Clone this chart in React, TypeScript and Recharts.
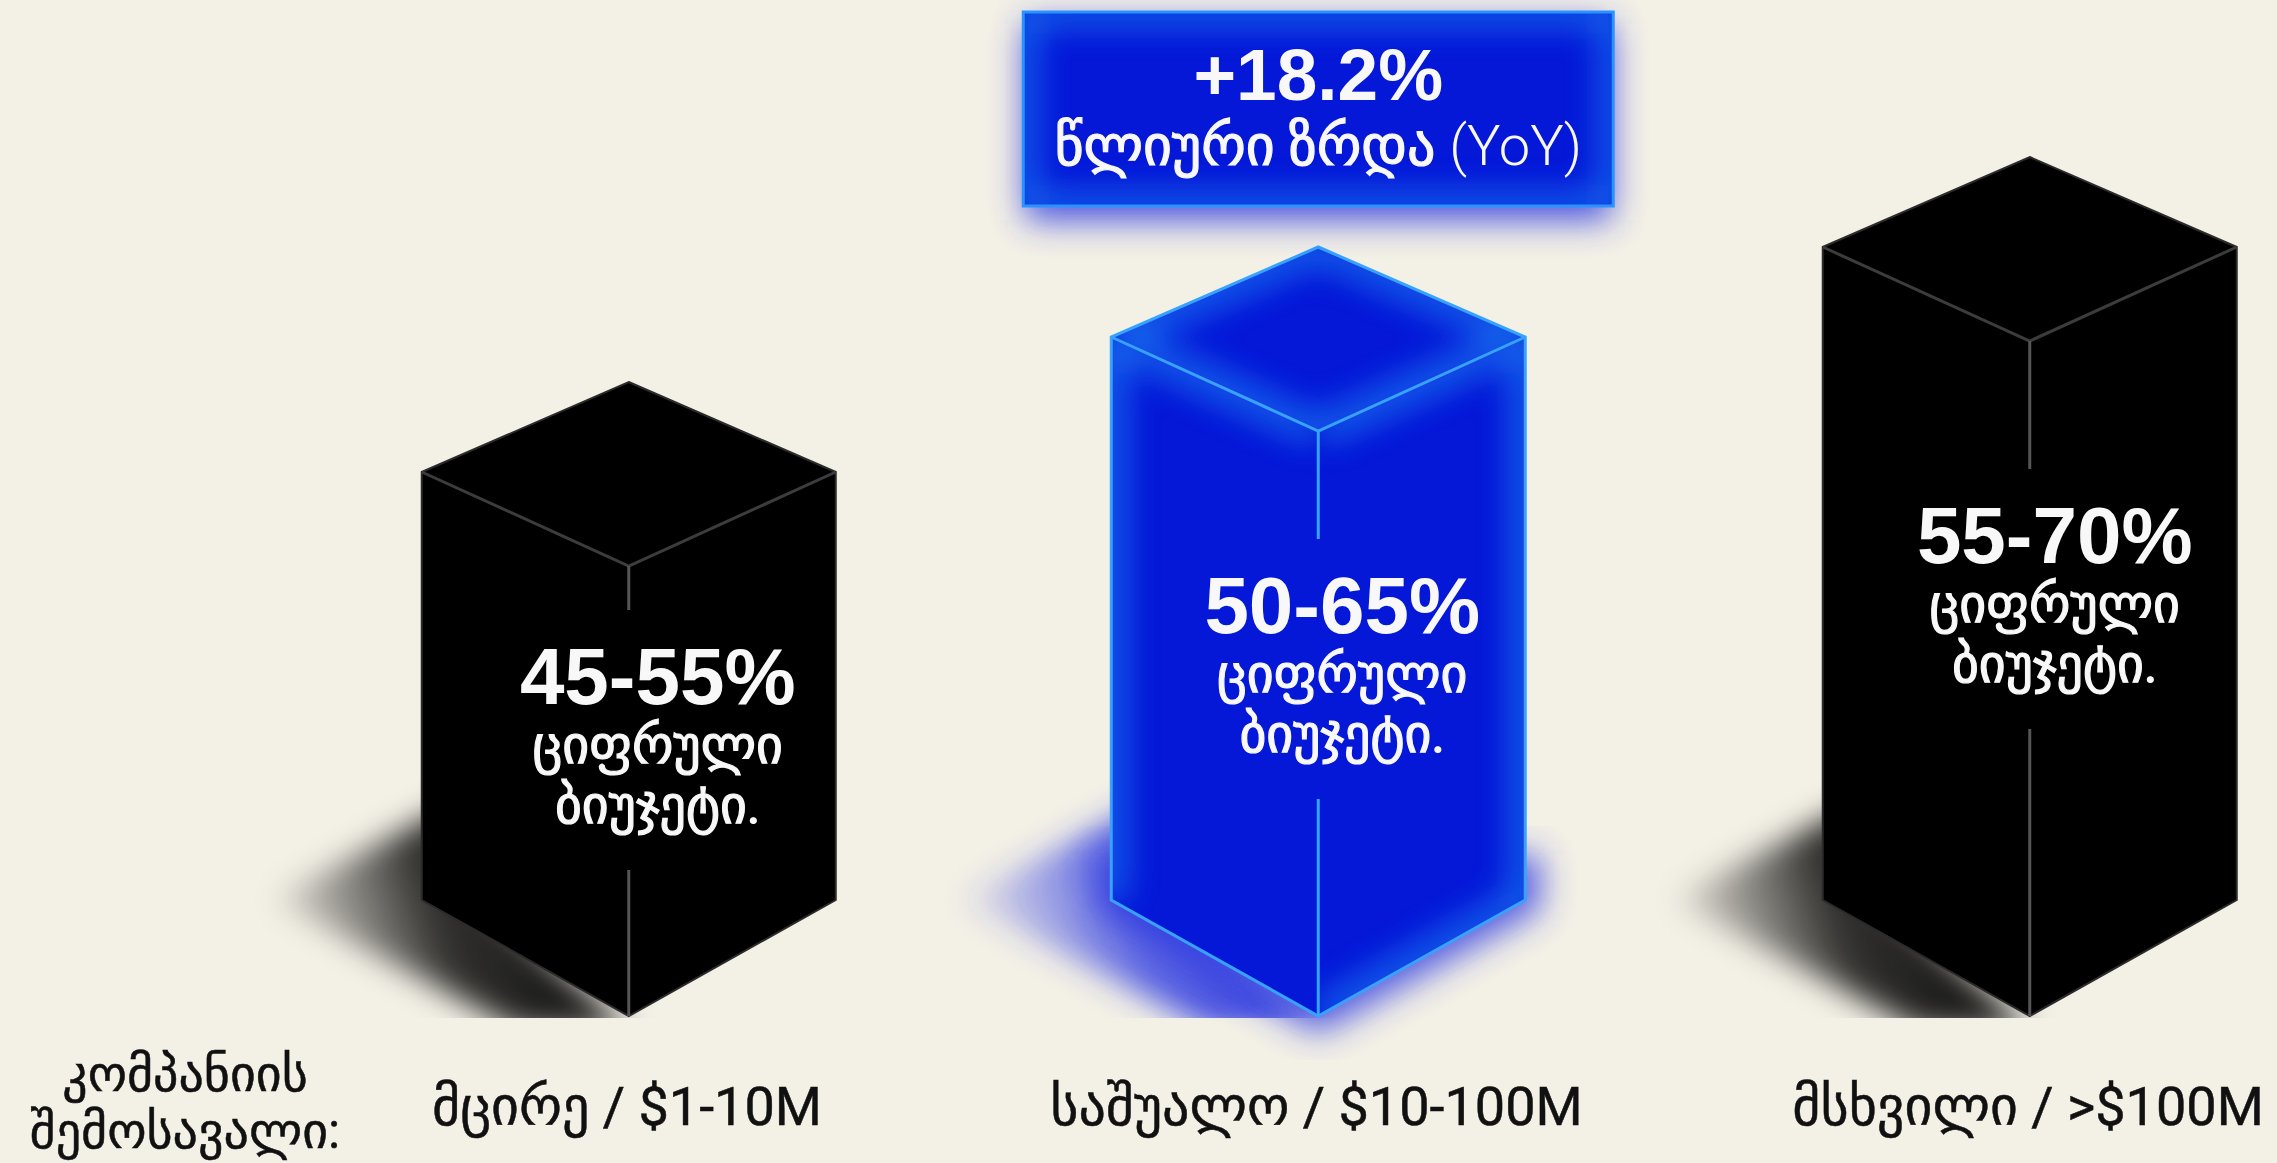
import { Bar, BarChart, XAxis, YAxis } from "recharts"

// revenue tiers and the digital budget share for each one
const revenueTiers = ["მცირე / $1-10M", "საშუალო / $10-100M", "მსხვილი / >$100M"]
const budgetRanges = ["45-55%", "50-65%", "55-70%"]
const budgetMidpoints = [50, 57.5, 62.5]
const budgetCaption = ["ციფრული", "ბიუჯეტი."]
const axisTitle = ["კომპანიის", "შემოსავალი:"]
const growthValue = "+18.2%"
const growthCaption = ["წლიური ზრდა", "(YoY)"]
const highlightTier = 1

const chartData = revenueTiers.map((tier, i) => ({
  tier,
  range: budgetRanges[i],
  midpoint: budgetMidpoints[i],
}))

const WIDTH = 2277
const HEIGHT = 1163
const NUMBER_FONT = "'Liberation Sans', Arial, sans-serif"
const TEXT_FONT = "Roboto, 'DejaVu Sans', sans-serif"

// the columns are not quite evenly spaced
const tierShift = [0, -11, 0]
// how far above the baseline the big percentage sits, and how far right of the front edge
const labelLift = [341, 412, 482]
const labelOffset = [29, 24, 25]

const TOP_NEAR = 94
const TOP_FAR = 90
const BOTTOM_RISE = 116

// soft light band along the given edges of one face
function FaceGlow({ id, points, glow }: { id: string; points: string; glow: string }) {
  return (
    <g clipPath={`url(#${id})`}>
      <clipPath id={id}>
        <polygon points={points} />
      </clipPath>
      <polyline
        points={glow}
        fill="none"
        stroke="#1b84f4"
        strokeWidth={24}
        opacity={0.85}
        filter="url(#innerGlow)"
      />
    </g>
  )
}

function IsoColumn(props: any) {
  const { x, y, width, height, index } = props
  const left = x + tierShift[index]
  const right = left + width
  const cx = left + width / 2
  const bottom = y + height
  const isBlue = index === highlightTier

  const sideTop = y - TOP_NEAR
  const apex = sideTop - TOP_FAR
  const sideBottom = bottom - BOTTOM_RISE

  const topFace = `${cx},${apex} ${right},${sideTop} ${cx},${y} ${left},${sideTop}`
  const leftFace = `${left},${sideTop} ${cx},${y} ${cx},${bottom} ${left},${sideBottom}`
  const rightFace = `${right},${sideTop} ${cx},${y} ${cx},${bottom} ${right},${sideBottom}`
  const outline = `${cx},${apex} ${right},${sideTop} ${right},${sideBottom} ${cx},${bottom} ${left},${sideBottom} ${left},${sideTop}`
  const shadow = `${left + 30},${sideBottom - 95} ${left - 150},${sideBottom} ${cx - 110},${bottom + 14} ${cx},${bottom + 14} ${left + 60},${sideBottom}`
  const lowerBody = `${left},${sideBottom - 30} ${left},${sideBottom} ${cx},${bottom} ${right},${sideBottom} ${right},${sideBottom - 30}`

  const edgeColor = isBlue ? "#38a2ff" : "#3c3c3c"
  const textY = bottom - labelLift[index]
  const textX = cx + labelOffset[index]
  const shadowFill = isBlue ? "url(#blueShadow)" : "url(#blackShadow)"

  return (
    <g>
      <g clipPath="url(#groundClip)">
        <polygon points={shadow} fill={shadowFill} filter="url(#softShadow)" />
      </g>
      {isBlue && (
        <polygon
          points={lowerBody}
          fill="#2c39e0"
          stroke="#2c39e0"
          strokeWidth={30}
          opacity={0.8}
          filter="url(#outerGlow)"
        />
      )}
      <polygon points={outline} fill={isBlue ? "#0518d8" : "#000"} />
      {isBlue && (
        <>
          <FaceGlow
            id="topFaceClip"
            points={topFace}
            glow={`${left},${sideTop} ${cx},${apex} ${right},${sideTop} ${cx},${y} ${left},${sideTop}`}
          />
          <FaceGlow
            id="leftFaceClip"
            points={leftFace}
            glow={`${left},${sideBottom} ${left},${sideTop} ${cx},${y}`}
          />
          <FaceGlow
            id="rightFaceClip"
            points={rightFace}
            glow={`${cx},${bottom} ${right},${sideBottom} ${right},${sideTop} ${cx},${y}`}
          />
        </>
      )}
      <polygon points={outline} fill="none" stroke={isBlue ? edgeColor : "#2b2b2b"} strokeWidth={isBlue ? 3 : 2} />
      <polyline points={`${left},${sideTop} ${cx},${y} ${right},${sideTop}`} fill="none" stroke={edgeColor} strokeWidth={3} />
      <line x1={cx} y1={y} x2={cx} y2={textY - 65} stroke={isBlue ? edgeColor : "#555"} strokeWidth={3} />
      <line x1={cx} y1={textY + 195} x2={cx} y2={bottom} stroke={isBlue ? edgeColor : "#555"} strokeWidth={3} />

      <g textAnchor="middle" fill="#f8f8f8">
        <text x={textX} y={textY + 29} fontFamily={NUMBER_FONT} fontSize={80} fontWeight={700}>
          {budgetRanges[index]}
        </text>
        <g fontFamily={TEXT_FONT} fontSize={52} stroke="#f8f8f8" strokeWidth={1.2}>
          <text x={textX} y={textY + 88}>{budgetCaption[0]}</text>
          <text x={textX} y={textY + 148}>{budgetCaption[1]}</text>
        </g>
      </g>

      {isBlue && (
        <g>
          <rect x={cx - 293} y={24} width={586} height={196} fill="#2c39e0" opacity={0.85} filter="url(#outerGlow)" />
          <g clipPath="url(#badgeClip)">
            <clipPath id="badgeClip">
              <rect x={cx - 295} y={12} width={590} height={194} />
            </clipPath>
            <rect x={cx - 295} y={12} width={590} height={194} fill="#0518d8" />
            <rect
              x={cx - 295}
              y={12}
              width={590}
              height={194}
              fill="none"
              stroke="#1b84f4"
              strokeWidth={22}
              opacity={0.85}
              filter="url(#innerGlow)"
            />
          </g>
          <rect x={cx - 295} y={12} width={590} height={194} fill="none" stroke="#2b93ff" strokeWidth={3} />
          <text x={cx} y={100} textAnchor="middle" fill="#f8f8f8" fontFamily={NUMBER_FONT} fontSize={73} fontWeight={700}>
            {growthValue}
          </text>
          <text x={cx} y={165} textAnchor="middle" fill="#f8f8f8" fontFamily={TEXT_FONT} fontSize={56}>
            <tspan stroke="#f8f8f8" strokeWidth={1.2}>{growthCaption[0]}</tspan>
            <tspan fontWeight={300}> {growthCaption[1]}</tspan>
          </text>
        </g>
      )}
    </g>
  )
}

function TierTick(props: any) {
  const { x, y, payload, index } = props
  return (
    <text
      x={x + tierShift[index] - 2}
      y={y + 103}
      textAnchor="middle"
      fill="#111"
      stroke="#111"
      strokeWidth={0.5}
      fontFamily={TEXT_FONT}
      fontSize={54}
    >
      {payload.value}
    </text>
  )
}

export default function App() {
  return (
    <div style={{ position: "absolute", left: 0, top: 0, width: WIDTH, height: HEIGHT, background: "#f3f0e6", overflow: "hidden" }}>
      <BarChart
        width={WIDTH}
        height={HEIGHT}
        data={chartData}
        margin={{ top: 26, right: 0, bottom: 0, left: 0 }}
      >
        <defs>
          <linearGradient id="blackShadow" x1="1" y1="0.3" x2="0" y2="0.5">
            <stop offset="0%" stopColor="#000" stopOpacity={1} />
            <stop offset="55%" stopColor="#000" stopOpacity={0.8} />
            <stop offset="100%" stopColor="#000" stopOpacity={0.03} />
          </linearGradient>
          <linearGradient id="blueShadow" x1="1" y1="0.3" x2="0" y2="0.5">
            <stop offset="0%" stopColor="#1f2cdc" stopOpacity={1} />
            <stop offset="55%" stopColor="#2f3ce0" stopOpacity={0.75} />
            <stop offset="100%" stopColor="#2f3ce0" stopOpacity={0.03} />
          </linearGradient>
          <filter id="softShadow" x="-30%" y="-30%" width="160%" height="160%">
            <feGaussianBlur stdDeviation="15" />
          </filter>
          <filter id="outerGlow" x="-30%" y="-30%" width="160%" height="160%">
            <feGaussianBlur stdDeviation="17" />
          </filter>
          <filter id="innerGlow" x="-30%" y="-30%" width="160%" height="160%">
            <feGaussianBlur stdDeviation="17" />
          </filter>
          <clipPath id="groundClip">
            <rect x={0} y={0} width={WIDTH} height={1018} />
          </clipPath>
        </defs>
        <XAxis
          dataKey="tier"
          scale="point"
          padding={{ left: 629, right: 247 }}
          height={147}
          axisLine={false}
          tickLine={false}
          interval={0}
          tickMargin={0}
          tick={TierTick}
        />
        <YAxis hide domain={[25, 80]} />
        <Bar
          dataKey="midpoint"
          barSize={414}
          isAnimationActive={false}
          shape={IsoColumn}
        />
        <text textAnchor="middle" fill="#111" stroke="#111" strokeWidth={0.5} fontFamily={TEXT_FONT} fontSize={50}>
          <tspan x={185} y={1091}>{axisTitle[0]}</tspan>
          <tspan x={185} y={1148}>{axisTitle[1]}</tspan>
        </text>
      </BarChart>
    </div>
  )
}
